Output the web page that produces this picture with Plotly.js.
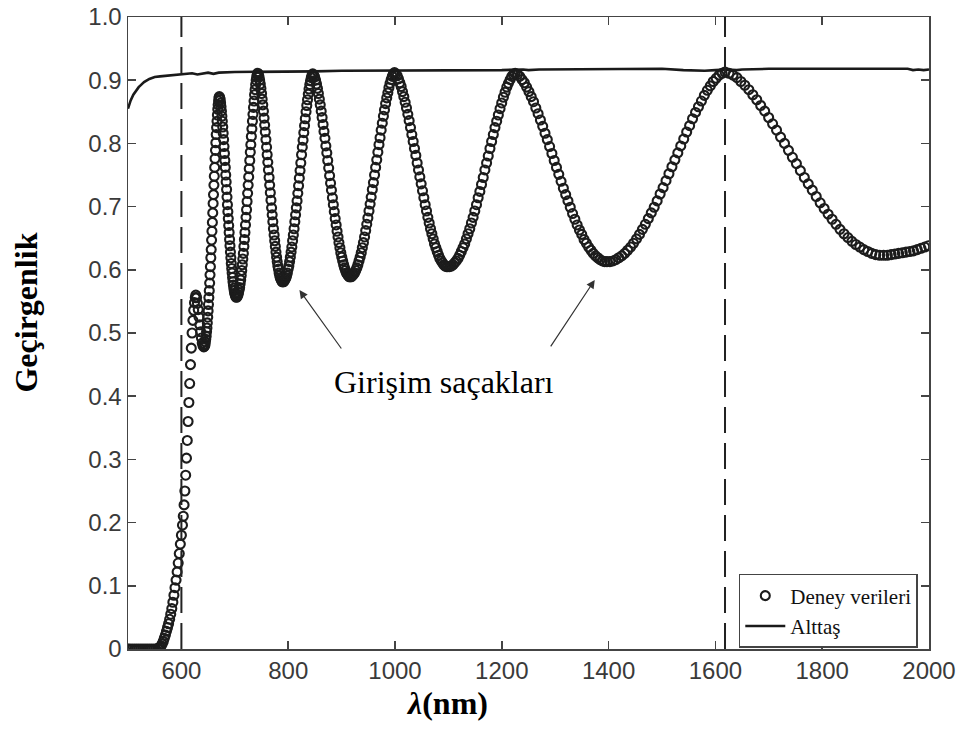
<!DOCTYPE html>
<html>
<head>
<meta charset="utf-8">
<script src="https://cdn.plot.ly/plotly-3.0.1.min.js"></script>
<style>html,body{margin:0;padding:0;background:#fff;}#chart{width:959px;height:741px;}</style>
</head>
<body>
<div id="chart"></div>
<script>
// Experimental transmittance (Deney verileri), wavelength in nm
const expWl = [
500,504,508,512,516,520,524,528,532,536,540,544,548,552,556,
558,560,562,564,566,568,570,572,574,576,578,580,582,584,586,588,590,592,594,596,598,600,602,603.5,605,606.5,608,609.5,611,612.5,614,615.5,617,618.5,620,621.5,623,624.5,626,
627,628.5,630,631.5,633,634.5,636,637.5,639,640.5,642,
642.7,643.5,644.2,644.9,645.6,646.4,647.1,647.8,648.5,649.3,650.0,650.7,651.4,652.2,652.9,653.6,654.3,655.1,655.8,656.5,657.2,658.0,658.7,659.4,660.1,660.9,661.6,662.3,663.0,663.8,664.5,665.2,665.9,666.7,667.4,668.1,668.8,669.6,670.3,671.0,
671.8,672.6,673.4,674.2,675.0,675.8,676.6,677.4,678.2,679.0,679.8,680.6,681.4,682.2,683.0,683.8,684.6,685.4,686.2,687.0,687.8,688.6,689.4,690.2,691.0,691.8,692.6,693.4,694.2,695.0,695.8,696.6,697.4,698.2,699.0,699.8,700.6,701.4,702.2,703.0,
704,705,706,707,708,709,710,711,712,713,714,715,716,717,718,719,720,721,722,723,724,725,726,727,728,729,730,731,732,733,734,735,736,737,738,739,740,741,742,743,
744.2,745.4,746.5,747.7,748.9,750.1,751.2,752.4,753.6,754.8,755.9,757.1,758.3,759.5,760.6,761.8,763.0,764.2,765.3,766.5,767.7,768.9,770.0,771.2,772.4,773.6,774.7,775.9,777.1,778.3,779.4,780.6,781.8,783.0,784.1,785.3,786.5,787.7,788.8,790.0,
791.4,792.8,794.2,795.6,797.0,798.4,799.8,801.2,802.6,804.0,805.4,806.8,808.2,809.6,811.0,812.4,813.8,815.2,816.6,818.0,819.4,820.8,822.2,823.6,825.0,826.4,827.8,829.2,830.6,832.0,833.4,834.8,836.2,837.6,839.0,840.4,841.8,843.2,844.6,846.0,
847.8,849.5,851.3,853.0,854.8,856.5,858.3,860.0,861.8,863.5,865.3,867.0,868.8,870.5,872.3,874.0,875.8,877.5,879.3,881.0,882.8,884.5,886.3,888.0,889.8,891.5,893.3,895.0,896.8,898.5,900.3,902.0,903.8,905.5,907.3,909.0,910.8,912.5,914.3,916.0,
918.1,920.2,922.2,924.3,926.4,928.5,930.5,932.6,934.7,936.8,938.8,940.9,943.0,945.1,947.1,949.2,951.3,953.4,955.4,957.5,959.6,961.7,963.7,965.8,967.9,970.0,972.0,974.1,976.2,978.3,980.3,982.4,984.5,986.6,988.6,990.7,992.8,994.9,996.9,999.0,
1001.5,1004,1006.5,1009,1011.5,1014,1016.5,1019,1021.5,1024,1026.5,1029,1031.5,1034,1036.5,1039,1041.5,1044,1046.5,1049,1051.5,1054,1056.5,1059,1061.5,1064,1066.5,1069,1071.5,1074,1076.5,1079,1081.5,1084,1086.5,1089,1091.5,1094,1096.5,1099,
1102.2,1105.3,1108.5,1111.6,1114.8,1117.9,1121.1,1124.2,1127.4,1130.5,1133.7,1136.8,1140.0,1143.1,1146.3,1149.4,1152.6,1155.7,1158.9,1162.0,1165.2,1168.3,1171.5,1174.6,1177.8,1180.9,1184.1,1187.2,1190.4,1193.5,1196.7,1199.8,1203.0,1206.1,1209.3,1212.4,1215.6,1218.7,1221.9,1225.0,
1229.3,1233.6,1237.9,1242.2,1246.5,1250.8,1255.1,1259.4,1263.7,1268.0,1272.3,1276.6,1280.9,1285.2,1289.5,1293.8,1298.1,1302.4,1306.7,1311.0,1315.3,1319.6,1323.9,1328.2,1332.5,1336.8,1341.1,1345.4,1349.7,1354.0,1358.3,1362.6,1366.9,1371.2,1375.5,1379.8,1384.1,1388.4,1392.7,1397.0,
1402.5,1408.1,1413.6,1419.1,1424.6,1430.2,1435.7,1441.2,1446.7,1452.3,1457.8,1463.3,1468.8,1474.4,1479.9,1485.4,1490.9,1496.5,1502.0,1507.5,1513.0,1518.6,1524.1,1529.6,1535.1,1540.7,1546.2,1551.7,1557.2,1562.8,1568.3,1573.8,1579.3,1584.9,1590.4,1595.9,1601.4,1607.0,1612.5,1618.0,
1625.4,1632.9,1640.3,1647.7,1655.1,1662.6,1670.0,1677.4,1684.8,1692.3,1699.7,1707.1,1714.5,1722.0,1729.4,1736.8,1744.2,1751.7,1759.1,1766.5,1773.9,1781.4,1788.8,1796.2,1803.6,1811.1,1818.5,1825.9,1833.3,1840.8,1848.2,1855.6,1863.0,1870.5,1877.9,1885.3,1892.7,1900.2,1907.6,1915.0,
1922,1929,1936,1943,1950,1957,1964,1971,1978,1985,1992,1999
];
const expT = [
0,0,0,0,0,0,0,0,0,0,0,0,0,0,0.001,
0.001,0.003,0.005,0.008,0.012,0.017,0.022,0.028,0.034,0.040,0.047,0.055,0.064,0.074,0.085,0.097,0.109,0.122,0.136,0.151,0.166,0.180,0.196,0.210,0.228,0.250,0.275,0.302,0.330,0.360,0.390,0.420,0.450,0.476,0.500,0.520,0.536,0.548,0.556,
0.560,0.556,0.547,0.537,0.525,0.513,0.502,0.492,0.484,0.480,0.478,
0.479,0.480,0.482,0.486,0.490,0.495,0.502,0.508,0.516,0.525,0.535,0.545,0.556,0.567,0.579,0.592,0.605,0.619,0.632,0.647,0.661,0.675,0.690,0.705,0.719,0.734,0.748,0.762,0.776,0.789,0.801,0.814,0.825,0.835,0.845,0.854,0.861,0.867,0.872,0.874,
0.872,0.869,0.864,0.858,0.851,0.843,0.835,0.826,0.816,0.806,0.795,0.784,0.773,0.762,0.750,0.739,0.727,0.715,0.703,0.692,0.681,0.670,0.659,0.648,0.638,0.628,0.619,0.610,0.602,0.595,0.588,0.581,0.576,0.571,0.567,0.563,0.561,0.559,0.557,0.557,
0.557,0.559,0.561,0.564,0.568,0.572,0.578,0.584,0.591,0.599,0.608,0.617,0.626,0.637,0.648,0.659,0.671,0.683,0.695,0.708,0.721,0.734,0.747,0.760,0.773,0.786,0.798,0.811,0.823,0.835,0.846,0.857,0.867,0.877,0.885,0.893,0.900,0.905,0.909,0.911,
0.909,0.905,0.900,0.894,0.887,0.879,0.870,0.861,0.851,0.840,0.829,0.818,0.806,0.794,0.782,0.770,0.758,0.746,0.734,0.722,0.710,0.698,0.687,0.676,0.665,0.655,0.646,0.637,0.628,0.620,0.613,0.606,0.601,0.595,0.591,0.587,0.585,0.583,0.581,0.581,
0.581,0.583,0.585,0.587,0.591,0.595,0.601,0.606,0.613,0.620,0.628,0.636,0.646,0.655,0.665,0.676,0.687,0.698,0.709,0.721,0.733,0.745,0.757,0.769,0.782,0.794,0.805,0.817,0.828,0.839,0.850,0.860,0.869,0.878,0.886,0.893,0.899,0.904,0.908,0.910,
0.908,0.905,0.900,0.894,0.887,0.879,0.870,0.861,0.851,0.841,0.830,0.819,0.808,0.796,0.785,0.773,0.761,0.749,0.737,0.726,0.714,0.703,0.692,0.681,0.671,0.661,0.652,0.643,0.635,0.627,0.620,0.614,0.608,0.603,0.599,0.595,0.593,0.591,0.589,0.589,
0.589,0.591,0.593,0.595,0.599,0.603,0.608,0.614,0.620,0.627,0.635,0.643,0.652,0.662,0.672,0.682,0.693,0.704,0.715,0.727,0.738,0.750,0.762,0.774,0.786,0.798,0.809,0.821,0.832,0.843,0.853,0.863,0.872,0.880,0.888,0.895,0.901,0.906,0.910,0.912,
0.910,0.907,0.902,0.896,0.890,0.882,0.874,0.865,0.856,0.846,0.836,0.825,0.814,0.803,0.792,0.781,0.769,0.758,0.747,0.736,0.725,0.714,0.703,0.693,0.683,0.674,0.665,0.657,0.649,0.641,0.635,0.629,0.623,0.618,0.614,0.611,0.608,0.606,0.605,0.605,
0.605,0.606,0.608,0.611,0.614,0.618,0.623,0.629,0.635,0.641,0.649,0.657,0.665,0.674,0.683,0.693,0.703,0.714,0.724,0.735,0.746,0.758,0.769,0.780,0.792,0.803,0.814,0.825,0.835,0.845,0.855,0.864,0.873,0.881,0.889,0.895,0.901,0.906,0.909,0.911,
0.909,0.906,0.901,0.896,0.889,0.882,0.874,0.866,0.856,0.847,0.837,0.827,0.816,0.806,0.795,0.784,0.773,0.762,0.751,0.740,0.729,0.719,0.709,0.699,0.689,0.680,0.671,0.663,0.656,0.648,0.642,0.636,0.631,0.626,0.622,0.619,0.616,0.614,0.613,0.613,
0.613,0.614,0.616,0.619,0.622,0.626,0.631,0.636,0.642,0.649,0.656,0.664,0.672,0.681,0.690,0.699,0.709,0.720,0.730,0.741,0.752,0.763,0.774,0.785,0.796,0.807,0.818,0.828,0.839,0.849,0.858,0.867,0.876,0.884,0.891,0.898,0.903,0.908,0.911,0.913,
0.911,0.908,0.904,0.898,0.892,0.885,0.877,0.869,0.860,0.851,0.841,0.831,0.821,0.810,0.800,0.789,0.778,0.768,0.757,0.746,0.736,0.726,0.716,0.706,0.697,0.688,0.680,0.672,0.664,0.657,0.651,0.645,0.640,0.636,0.632,0.629,0.626,0.624,0.623,0.623,
0.623,0.624,0.625,0.626,0.627,0.628,0.629,0.630,0.632,0.634,0.636,0.638
];

// Substrate transmittance (Alttaş)
const subWl = [500,505,510,515,520,525,530,540,550,560,575,590,600,610,620,630,640,650,660,670,700,750,800,850,900,950,1000,1100,1200,1240,1250,1270,1400,1500,1540,1560,1580,1600,1620,1640,1650,1700,1800,1900,1960,1970,1980,1990,2000];
const subT  = [0.855,0.868,0.877,0.884,0.889,0.893,0.897,0.902,0.905,0.906,0.907,0.908,0.909,0.910,0.911,0.909,0.911,0.912,0.910,0.912,0.913,0.913,0.914,0.914,0.915,0.915,0.915,0.916,0.916,0.917,0.916,0.917,0.917,0.918,0.916,0.915,0.915,0.916,0.917,0.916,0.917,0.918,0.918,0.918,0.918,0.916,0.917,0.916,0.917];

// Dashed reference wavelengths
const refLines = [600, 1618];

// Tick labels
const xTickVals = [600, 800, 1000, 1200, 1400, 1600, 1800, 2000];
const xTickText = ['600','800','1000','1200','1400','1600','1800','2000'];
const yTickVals = [0, 0.1, 0.2, 0.3, 0.4, 0.5, 0.6, 0.7, 0.8, 0.9, 1.0];
const yTickText = ['0','0.1','0.2','0.3','0.4','0.5','0.6','0.7','0.8','0.9','1.0'];

// Arrow targets (fringe minima pointed at)
const arrowTargets = [[821, 0.568], [1374, 0.584]];

const traces = [
  {
    x: expWl, y: expT, type: 'scatter', mode: 'markers', name: 'Deney verileri',
    marker: {symbol: 'circle-open', size: 9, color: '#1c1c1c', line: {width: 2.1, color: '#1c1c1c'}},
    cliponaxis: true
  },
  {
    x: subWl, y: subT, type: 'scatter', mode: 'lines', name: 'Alttaş',
    line: {color: '#1a1a1a', width: 2.6}
  }
];

const axisCommon = {
  showgrid: false, zeroline: false, showline: true, linecolor: '#444', linewidth: 1.5,
  mirror: 'ticks', ticks: 'inside', ticklen: 8, tickwidth: 1.5, tickcolor: '#444',
  tickfont: {family: 'Liberation Sans, Arial, sans-serif', size: 24, color: '#3a3a3a'}
};

const shapes = refLines.map(v => ({
  type: 'line', xref: 'x', yref: 'paper', x0: v, x1: v, y0: 0, y1: 1,
  line: {color: '#222', width: 2, dash: '26px,10px'}, layer: 'above'
}));

const annotations = [
  {xref: 'paper', yref: 'paper', x: 0.394, y: 0.4225, text: 'Girişim saçakları', showarrow: false,
   xanchor: 'center', yanchor: 'middle', font: {family: 'Liberation Serif, Times New Roman, serif', size: 32, color: '#000'}},
  {xref: 'paper', yref: 'paper', x: -0.1267, y: 0.5316, text: '<b>Geçirgenlik</b>', textangle: -90, showarrow: false,
   xanchor: 'center', yanchor: 'middle', font: {family: 'Liberation Serif, Times New Roman, serif', size: 32, color: '#000'}},
  {xref: 'paper', yref: 'paper', x: 0.398, y: -0.0854, text: '<b><i>λ</i>(nm)</b>', showarrow: false,
   xanchor: 'center', yanchor: 'middle', font: {family: 'Liberation Serif, Times New Roman, serif', size: 32, color: '#000'}},
  {xref: 'x', yref: 'y', x: arrowTargets[0][0], y: arrowTargets[0][1], text: '', showarrow: true,
   ax: 43, ay: 60, arrowhead: 2, arrowsize: 1.4, arrowwidth: 1.2, arrowcolor: '#333'},
  {xref: 'x', yref: 'y', x: arrowTargets[1][0], y: arrowTargets[1][1], text: '', showarrow: true,
   ax: -45, ay: 68, arrowhead: 2, arrowsize: 1.4, arrowwidth: 1.2, arrowcolor: '#333'}
];

const layout = {
  width: 959, height: 741,
  margin: {l: 128, r: 30, t: 17, b: 92, pad: 0},
  paper_bgcolor: '#fff', plot_bgcolor: '#fff',
  showlegend: true,
  legend: {
    x: 0.986, xanchor: 'right', y: 0.1187, yanchor: 'top',
    bgcolor: '#fff', bordercolor: '#444', borderwidth: 1.5,
    font: {family: 'Liberation Serif, Times New Roman, serif', size: 21, color: '#111'},
    itemwidth: 40
  },
  xaxis: Object.assign({}, axisCommon, {range: [500, 2000], tickmode: 'array', tickvals: xTickVals, ticktext: xTickText}),
  yaxis: Object.assign({}, axisCommon, {range: [0, 1.0], tickmode: 'array', tickvals: yTickVals, ticktext: yTickText}),
  shapes: shapes,
  annotations: annotations
};

Plotly.newPlot('chart', traces, layout, {displayModeBar: false, staticPlot: true});
</script>
</body>
</html>
